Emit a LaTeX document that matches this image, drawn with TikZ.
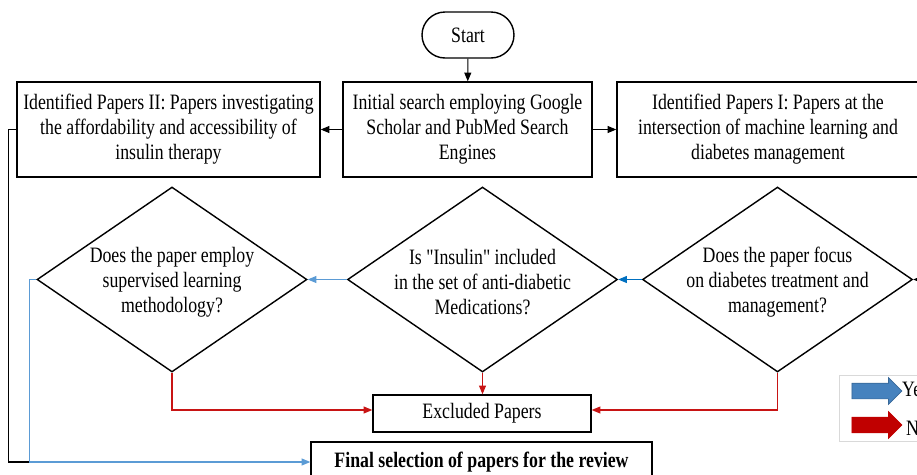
\documentclass[tikz,border=0pt]{standalone}
\usepackage{fontspec}
\setmainfont{Liberation Serif}[FakeStretch=0.81, Ligatures=TeXOff]
\usetikzlibrary{shapes.geometric,shapes.arrows,arrows.meta}
\definecolor{yesblue}{RGB}{91,155,213}
\definecolor{yesdark}{RGB}{0,112,192}
\definecolor{nored}{RGB}{200,20,20}
\definecolor{legblue}{RGB}{70,130,190}
\definecolor{legred}{RGB}{192,0,0}
\tikzset{
    procbox/.style={draw, line width=0.8pt, align=center, inner sep=0pt},
    decision/.style={draw, diamond, line width=0.8pt, minimum width=5.4cm, minimum height=3.7cm, inner sep=0pt},
    arr/.style={-{Triangle[length=5pt,width=4pt]}, line width=0.6pt},
    yes/.style={arr, yesblue},
    no/.style={arr, nored},
    legarrow/.style={single arrow, minimum height=1cm, minimum width=0.52cm, inner sep=0.15cm, single arrow head extend=0.11cm}
}
\begin{document}
\begin{tikzpicture}[x=0.02cm, y=-0.02cm, font=\fontsize{12.5}{14.2}\selectfont]
    \useasboundingbox (0,0) rectangle (917,474);
    \clip (0,0) rectangle (917,474);

    \node[procbox, rounded corners=0.46cm, minimum width=1.84cm, minimum height=0.92cm] (start) at (468,35) {Start};
    \node[procbox, minimum width=4.98cm, minimum height=1.9cm] (search) at (467.5,129.5) {Initial search employing Google\\Scholar and PubMed Search\\Engines};
    \node[procbox, minimum width=6.06cm, minimum height=1.9cm] (idII) at (168.5,129.5) {Identified Papers II: Papers investigating\\the affordability and accessibility of\\insulin therapy};
    \node[procbox, minimum width=6.04cm, minimum height=1.9cm] (idI) at (768,129.5) {Identified Papers I: Papers at the\\intersection of machine learning and\\diabetes management};

    \node[decision] (d1) at (172,279.5) {};
    \node[align=center] at ([yshift=-0.05cm]d1) {Does the paper employ\\supervised learning\\methodology?};
    \node[decision] (d2) at (482.5,279.5) {};
    \node[align=center] at ([yshift=-0.05cm]d2) {Is "Insulin" included\\in the set of anti-diabetic\\Medications?};
    \node[decision] (d3) at (777.5,279.5) {};
    \node[align=center] at ([yshift=-0.05cm]d3) {Does the paper focus\\on diabetes treatment and\\management?};

    \node[procbox, minimum width=4.36cm, minimum height=0.74cm] (excl) at (482,413.5) {Excluded Papers};
    \node[procbox, minimum width=6.82cm, minimum height=0.8cm] (final) at (481.5,462) {\bfseries Final selection of papers for the review};

    \draw[arr] (start) -- (search);
    \draw[arr] (search) -- (idII);
    \draw[arr] (search) -- (idI);
    \draw[arr] (idI.east) -- ++(20,0) |- (d3.east);

    \draw[yes, yesdark] (d3.west) -- (d2.east);
    \draw[yes] (d2.west) -- (d1.east);
    \draw[yes] (d1.west) -- ++(-7,0) |- (final.west);
    \draw[line width=0.6pt] (idII.west) -- ++(-8,0) |- ([xshift=-0.14cm]d1.west |- final.west);

    \draw[no] (d1.south) |- ([yshift=0.07cm]excl.west);
    \draw[no] (d2.south) -- (d2.south |- excl.north);
    \draw[no] (d3.south) |- ([yshift=0.07cm]excl.east);

    \draw[gray!30] (839,375) rectangle (940,441);
    \node[legarrow, fill=legblue, draw=legblue!80!black] (yesarr) at (873,391) {};
    \node[anchor=west] (yeslab) at (896,389) {Yes};
    \node[legarrow, fill=legred, draw=legred] (noarr) at (873,425) {};
    \node[anchor=west] (nolab) at (900,428) {No};
\end{tikzpicture}
\end{document}
